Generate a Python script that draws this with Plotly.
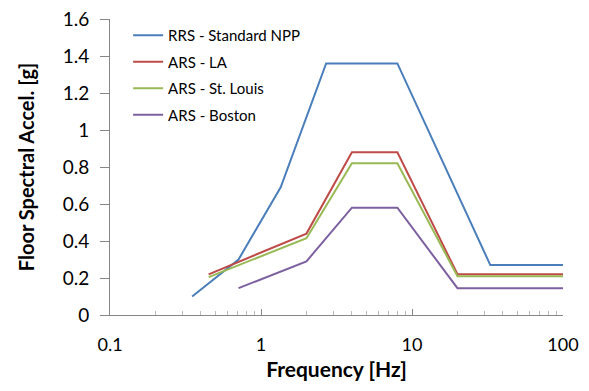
import plotly.graph_objects as go

# Data
rrs_freq = [0.35, 0.71, 1.35, 2.7, 8.0, 33.0, 100.0]
rrs_accel = [0.10, 0.30, 0.69, 1.36, 1.36, 0.27, 0.27]

la_freq = [0.45, 2.0, 4.0, 8.0, 20.0, 100.0]
la_accel = [0.22, 0.44, 0.88, 0.88, 0.22, 0.22]

stl_freq = [0.45, 2.0, 4.0, 8.0, 20.0, 100.0]
stl_accel = [0.205, 0.415, 0.82, 0.82, 0.21, 0.21]

bos_freq = [0.71, 2.0, 4.0, 8.0, 20.0, 100.0]
bos_accel = [0.145, 0.29, 0.58, 0.58, 0.145, 0.145]

series_names = ["RRS - Standard NPP", "ARS - LA", "ARS - St. Louis", "ARS - Boston"]
series_colors = ["#4A7EBB", "#BE4B48", "#98B954", "#7D60A0"]

x_tickvals = [0.1, 1, 10, 100]
x_ticktext = ["0.1", "1", "10", "100"]
y_tickvals = [0, 0.2, 0.4, 0.6, 0.8, 1.0, 1.2, 1.4, 1.6]
y_ticktext = ["0", "0.2", "0.4", "0.6", "0.8", "1", "1.2", "1.4", "1.6"]

FONT = "Lato, 'Open Sans', sans-serif"

fig = go.Figure()
for i, (xs, ys) in enumerate([(rrs_freq, rrs_accel), (la_freq, la_accel),
                               (stl_freq, stl_accel), (bos_freq, bos_accel)]):
    fig.add_trace(go.Scatter(
        x=xs, y=ys, mode="lines", name=series_names[i],
        line=dict(color=series_colors[i], width=2),
        legendgroup=f"g{i}",
    ))

# the page body has an 8px margin, so the figure is drawn 8px in from the top-left
fig.update_layout(
    width=581, height=375,
    margin=dict(l=102, r=26, t=11, b=68, autoexpand=False),
    paper_bgcolor="white", plot_bgcolor="white",
    font=dict(family=FONT, color="#000000"),
    showlegend=True,
    legend=dict(
        x=0.04, y=1.0, xanchor="left", yanchor="top",
        bgcolor="rgba(0,0,0,0)",
        font=dict(size=15, family=FONT),
        traceorder="grouped", tracegroupgap=4,
        itemwidth=30,
    ),
    xaxis=dict(
        type="log", range=[-1, 2],
        tickvals=x_tickvals, ticktext=x_ticktext,
        showgrid=False, zeroline=False, automargin=False,
        showline=True, linecolor="#868686", linewidth=1,
        ticks="inside", ticklen=6, tickcolor="#868686",
        minor=dict(ticks="inside", ticklen=4, tickcolor="#BBBBBB", dtick="D1", showgrid=False),
        tickfont=dict(size=18, family=FONT),
        ticklabelstandoff=13,
        ticklabeloverflow="allow",
        title=dict(text="<b>Frequency [Hz]</b>", font=dict(size=21, family=FONT), standoff=8),
    ),
    yaxis=dict(
        range=[0, 1.6],
        tickvals=y_tickvals, ticktext=y_ticktext,
        showgrid=False, zeroline=False, automargin=False,
        showline=True, linecolor="#868686", linewidth=1,
        ticks="outside", ticklen=9, tickcolor="#868686",
        tickfont=dict(size=19, family=FONT),
        ticklabelstandoff=7,
        ticklabeloverflow="allow",
        title=dict(text="<b>Floor Spectral Accel. [g]</b>", font=dict(size=20, family=FONT), standoff=22),
    ),
)

fig.write_html("out.html")
